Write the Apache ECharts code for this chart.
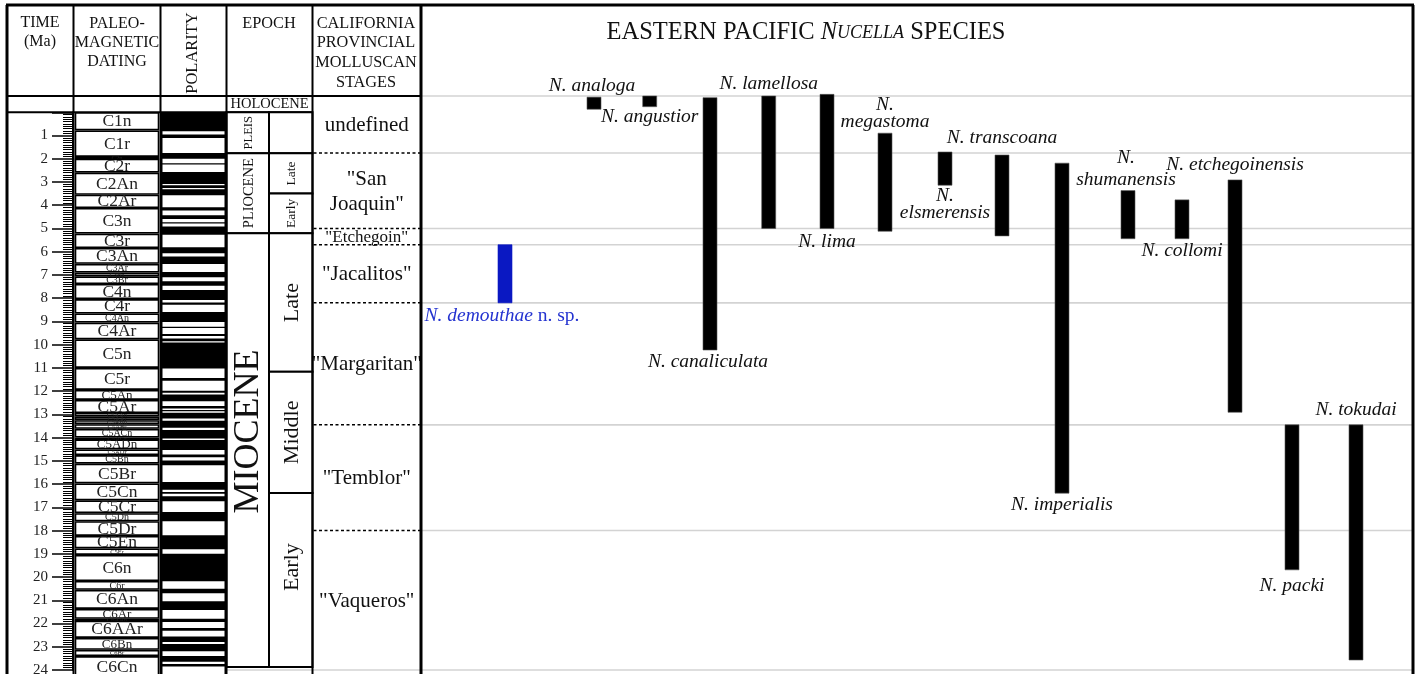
<!DOCTYPE html>
<html><head><meta charset="utf-8">
<script src="https://cdn.jsdelivr.net/npm/echarts@6/dist/echarts.min.js"></script>
<style>html,body{margin:0;padding:0;background:#fff}#c{width:1418px;height:674px}</style>
</head><body><div id="c"></div>
<script>
// ================= DATA (ages in Ma) =================
const TIME_TICK_LABELS = [1,2,3,4,5,6,7,8,9,10,11,12,13,14,15,16,17,18,19,20,21,22,23,24];

const CHRON_NAMES = ['C1n','C1r','C2n','C2r','C2An','C2Ar','C3n','C3r','C3An','C3Ar','C3Bn','C3Br','C4n','C4r','C4An','C4Ar','C5n','C5r','C5An','C5Ar','C5AAn','C5AAr','C5ABn','C5ABr','C5ACn','C5ACr','C5ADn','C5ADr','C5Bn','C5Br','C5Cn','C5Cr','C5Dn','C5Dr','C5En','C5Er','C6n','C6r','C6An','C6Ar','C6AAn','C6AAr','C6Bn','C6Br','C6Cn'];
const CHRON_YOUNG = [0,0.78,1.92,2.0,2.6,3.55,4.12,5.22,5.84,6.52,6.9,7.06,7.39,8.04,8.66,9.05,9.77,11.0,11.95,12.38,12.94,13.1,13.25,13.42,13.62,14.0,14.08,14.51,14.75,15.12,15.97,16.7,17.25,17.6,18.23,18.77,19.05,20.17,20.55,21.37,21.8,21.88,22.62,23.13,23.4];
const CHRON_OLD   = [0.78,1.92,2.0,2.6,3.55,4.12,5.22,5.84,6.52,6.9,7.06,7.39,8.04,8.66,9.05,9.77,11.0,11.95,12.38,12.94,13.1,13.25,13.42,13.62,14.0,14.08,14.51,14.75,15.12,15.97,16.7,17.25,17.6,18.23,18.77,19.05,20.17,20.55,21.37,21.8,21.88,22.62,23.13,23.4,24.3];

const POLARITY_RECORD = [0, 24.3];
const REVERSED_YOUNG = [0.82,1.11,2.0,2.25,3.09,3.26,3.57,4.23,4.59,4.79,5.27,6.07,6.53,7.10,7.47,8.08,8.28,9.02,9.28,9.63,9.85,11.03,11.55,12.07,12.44,12.75,12.87,13.18,13.58,14.04,14.53,14.85,15.19,16.24,16.42,16.74,17.6,18.8,20.18,20.7,21.42,21.93,22.31,22.79,23.19,23.65,23.85];
const REVERSED_OLD   = [0.96,1.75,2.19,2.57,3.14,3.31,4.09,4.43,4.73,4.92,5.81,6.21,6.87,7.27,7.65,8.19,8.59,9.23,9.54,9.74,9.91,11.43,11.98,12.15,12.64,12.81,12.93,13.27,13.67,14.10,14.73,14.99,15.91,16.34,16.52,17.2,18.2,19.0,20.5,21.04,21.79,22.19,22.56,22.88,23.4,23.74,24.3];

const HOLOCENE = ['HOLOCENE', -0.7, 0];
const EPOCH_NAMES = ['PLEIS','PLIOCENE','MIOCENE'];
const EPOCH_YOUNG = [0, 1.76, 5.21];
const EPOCH_OLD   = [1.76, 5.21, 23.87];
const SUBEPOCH_NAMES = ['', 'Late', 'Early', 'Late', 'Middle', 'Early'];
const SUBEPOCH_YOUNG = [0, 1.76, 3.5, 5.21, 11.17, 16.38];
const SUBEPOCH_OLD   = [1.76, 3.5, 5.21, 11.17, 16.38, 23.87];

const STAGE_NAMES = ['undefined', '"San\nJoaquin"', '"Etchegoin"', '"Jacalitos"', '"Margaritan"', '"Temblor"', '"Vaqueros"'];
const STAGE_YOUNG = [-0.7, 1.75, 5.0, 5.7, 8.2, 13.45, 18.0];
const STAGE_OLD   = [1.75, 5.0, 5.7, 8.2, 13.45, 18.0, 24];

const SPECIES = ['N. demouthae','N. analoga','N. angustior','N. canaliculata','N. lamellosa','N. lima','N. megastoma','N. elsmerensis','N. transcoana','N. imperialis','N. shumanensis','N. collomi','N. etchegoinensis','N. packi','N. tokudai'];
const SPECIES_YOUNG = [5.7,-0.65,-0.7,-0.63,-0.7,-0.77,0.9,1.71,1.84,2.19,3.37,3.77,2.91,13.45,13.45];
const SPECIES_OLD   = [8.2,-0.13,-0.24,10.23,5.0,5.0,5.12,3.14,5.32,16.39,5.44,5.44,12.91,19.69,23.57];

// ================= LAYOUT / STYLE =================
const SERIF = '"Liberation Serif","Times New Roman",serif';
const INK = '#111';
const COL = {left:7, time:73.5, paleoL:75.5, paleoR:158.5, pol:160.5, polInL:162.5, polInR:224.5, ep:226.5, epMid:269, st:312.5, sp:421, right:1413};
const SPECIES_X = [505,594,649.7,710,768.7,827,885,945,1002,1062,1128,1182,1235,1292,1356];
const BAR_W = 14;
const LABEL_SIDE = ['bottom','top','bottom','bottom','top','bottom','top','bottom','top','bottom','top','bottom','top','bottom','top'];
const LABEL_DY   = [13,-11,10,12,-12,13,-20,19,-17,12,-22,12,-15,16,-15];
const LABEL_DX   = [-3,-2,0,-2,0,0,0,0,0,0,-2,0,0,0,0];
const LABEL_WRAP = [false,false,false,false,false,false,true,true,false,false,true,false,false,false,false];
const NEW_SPECIES = 0;
const EPOCH_LABEL_SHIFT = [0, 0, -0.8];
const SUBEPOCH_LABEL_SHIFT = [0,0,0,0,0,-0.55];
const SP_FONT = 19.5;

// ================= GRAPHIC (frame + header) =================
const G = [];
function gline(x1,y1,x2,y2,w,c){G.push({type:'line',silent:true,z:30,shape:{x1,y1,x2,y2},style:{stroke:c||'#000',lineWidth:w||2}});}
function gtext(x,y,t,size,lh,extra){G.push(Object.assign({type:'text',silent:true,z:30,x,y,style:{text:t,fill:INK,fontFamily:SERIF,fontSize:size||16,align:'center',verticalAlign:'middle',lineHeight:lh||19}},extra||{}));}
gline(COL.left-1,5,COL.right+1,5,3);
gline(COL.left,5,COL.left,674,3);
gline(COL.right,5,COL.right,674,3);
gline(COL.time,5,COL.time,674,2);
gline(COL.pol,5,COL.pol,674,2);
gline(COL.ep,5,COL.ep,674,2);
gline(COL.st,5,COL.st,674,2);
gline(COL.sp,5,COL.sp,674,3);
gline(COL.left,96,COL.sp,96,2);
gtext(40,32.5,'TIME\n(Ma)',16,18.5);
gtext(117,42.5,'PALEO-\nMAGNETIC\nDATING',16,19);
gtext(193,53,'POLARITY',16.5,19,{rotation:Math.PI/2});
gtext(269,24,'EPOCH',16.3,19);
gtext(366,53,'CALIFORNIA\nPROVINCIAL\nMOLLUSCAN\nSTAGES',16.3,19.6);
G.push({type:'text',silent:true,z:30,x:806,y:33,style:{text:'EASTERN PACIFIC {i|N}{s|UCELLA} SPECIES',fill:INK,fontFamily:SERIF,fontSize:24.5,align:'center',verticalAlign:'middle',
  rich:{i:{fontFamily:SERIF,fontSize:24.5,fontStyle:'italic',fill:INK},s:{fontFamily:SERIF,fontSize:18,fontStyle:'italic',fill:INK}}}});

// ================= SERIES =================
const series = [];

// stage column + grey guide lines in the species panel
series.push({type:'custom',xAxisIndex:0,yAxisIndex:0,clip:false,z:2,silent:true,
  data: STAGE_NAMES.map((n,i)=>[COL.st, STAGE_YOUNG[i], STAGE_OLD[i]]), encode:{x:0,y:[1,2]},
  renderItem(p,api){
    const i=p.dataIndex;
    const y0=api.coord([0,api.value(1)])[1], y1=api.coord([0,api.value(2)])[1];
    const ch=[];
    ch.push({type:'line',shape:{x1:COL.sp+1,y1:y0,x2:COL.right-1,y2:y0},style:{stroke:'#d3d3d3',lineWidth:1.6}});
    if(i===STAGE_NAMES.length-1) ch.push({type:'line',shape:{x1:COL.ep,y1:y1,x2:COL.right-1,y2:y1},style:{stroke:'#d3d3d3',lineWidth:1.6}});
    if(i>0) ch.push({type:'line',shape:{x1:COL.st+1,y1:y0,x2:COL.sp-1,y2:y0},style:{stroke:'#000',lineWidth:1.5,lineDash:[3,2.5]}});
    const fs = (STAGE_OLD[i]-STAGE_YOUNG[i])<1 ? 17 : 21;
    ch.push({type:'text',x:(COL.st+COL.sp)/2,y:(y0+y1)/2+1,style:{text:STAGE_NAMES[i],fill:INK,fontFamily:SERIF,fontSize:fs,align:'center',verticalAlign:'middle',lineHeight:25}});
    return {type:'group',children:ch};
  }});

// holocene row
series.push({type:'custom',xAxisIndex:0,yAxisIndex:0,clip:false,z:3,silent:true,
  data:[[COL.ep,HOLOCENE[1],HOLOCENE[2]]],encode:{x:0,y:[1,2]},
  renderItem(p,api){
    const y0=api.coord([0,api.value(1)])[1], y1=api.coord([0,api.value(2)])[1];
    return {type:'group',children:[
      {type:'line',shape:{x1:COL.left,y1:y1,x2:COL.st,y2:y1},style:{stroke:'#000',lineWidth:2}},
      {type:'text',x:(COL.ep+COL.st)/2,y:(y0+y1)/2+0.5,style:{text:HOLOCENE[0],fill:INK,fontFamily:SERIF,fontSize:14.5,align:'center',verticalAlign:'middle'}}
    ]};
  }});

// epochs
series.push({type:'custom',xAxisIndex:0,yAxisIndex:0,clip:false,z:3,silent:true,
  data:EPOCH_NAMES.map((n,i)=>[COL.ep,EPOCH_YOUNG[i],EPOCH_OLD[i]]),encode:{x:0,y:[1,2]},
  renderItem(p,api){
    const i=p.dataIndex;
    const y0=api.coord([0,api.value(1)])[1], y1=api.coord([0,api.value(2)])[1];
    const yl=api.coord([0,(EPOCH_YOUNG[i]+EPOCH_OLD[i])/2+EPOCH_LABEL_SHIFT[i]])[1];
    const fs=[12.5,14.5,36][i];
    return {type:'group',children:[
      {type:'rect',shape:{x:COL.ep,y:y0,width:COL.epMid-COL.ep,height:y1-y0},style:{fill:'#fff',stroke:'#000',lineWidth:2}},
      {type:'text',x:(COL.ep+COL.epMid)/2+1,y:yl,rotation:Math.PI/2,style:{text:EPOCH_NAMES[i],fill:INK,fontFamily:SERIF,fontSize:fs,align:'center',verticalAlign:'middle'}}
    ]};
  }});
series.push({type:'custom',xAxisIndex:0,yAxisIndex:0,clip:false,z:3,silent:true,
  data:SUBEPOCH_NAMES.map((n,i)=>[COL.epMid,SUBEPOCH_YOUNG[i],SUBEPOCH_OLD[i]]),encode:{x:0,y:[1,2]},
  renderItem(p,api){
    const i=p.dataIndex;
    const y0=api.coord([0,api.value(1)])[1], y1=api.coord([0,api.value(2)])[1];
    const yl=api.coord([0,(SUBEPOCH_YOUNG[i]+SUBEPOCH_OLD[i])/2+SUBEPOCH_LABEL_SHIFT[i]])[1];
    const fs=(SUBEPOCH_OLD[i]-SUBEPOCH_YOUNG[i])<2.5?13.5:22;
    return {type:'group',children:[
      {type:'rect',shape:{x:COL.epMid,y:y0,width:COL.st-COL.epMid,height:y1-y0},style:{fill:'#fff',stroke:'#000',lineWidth:2}},
      {type:'text',x:(COL.epMid+COL.st)/2+1,y:yl,rotation:Math.PI/2,style:{text:SUBEPOCH_NAMES[i],fill:INK,fontFamily:SERIF,fontSize:fs,align:'center',verticalAlign:'middle'}}
    ]};
  }});

// paleomagnetic chrons
series.push({type:'custom',xAxisIndex:0,yAxisIndex:0,clip:false,z:3,silent:true,
  data:CHRON_NAMES.map((n,i)=>[COL.paleoL,CHRON_YOUNG[i],CHRON_OLD[i]]),encode:{x:0,y:[1,2]},
  renderItem(p,api){
    const i=p.dataIndex;
    const y0=api.coord([0,api.value(1)])[1];
    const yEnd=api.coord([0,api.value(2)])[1];
    const y1=Math.min(yEnd,676);
    const h=yEnd-y0;
    const fs = h>=12?17.5:(h>=9.5?13:(h>=7.5?10:6.5));
    return {type:'group',children:[
      {type:'rect',shape:{x:COL.paleoL,y:y0+0.8,width:COL.paleoR-COL.paleoL,height:Math.max(1,y1-y0-1.6)},style:{fill:'#fff',stroke:'#000',lineWidth:1.6}},
      {type:'text',x:(COL.paleoL+COL.paleoR)/2,y:(y0+yEnd)/2+0.5,style:{text:CHRON_NAMES[i],fill:'#222',fontFamily:SERIF,fontSize:fs,align:'center',verticalAlign:'middle'}}
    ]};
  }});

// polarity: normal background + reversed (white) intervals
series.push({type:'custom',xAxisIndex:0,yAxisIndex:0,clip:false,z:3,silent:true,
  data:[[COL.pol,POLARITY_RECORD[0],POLARITY_RECORD[1]]],encode:{x:0,y:[1,2]},
  renderItem(p,api){
    const y0=api.coord([0,api.value(1)])[1], y1=api.coord([0,api.value(2)])[1];
    return {type:'rect',shape:{x:COL.pol,y:y0,width:COL.ep-COL.pol,height:y1-y0},style:{fill:'#000'}};
  }});
series.push({type:'custom',xAxisIndex:0,yAxisIndex:0,clip:false,z:4,silent:true,
  data:REVERSED_YOUNG.map((v,i)=>[COL.polInL,v,REVERSED_OLD[i]]),encode:{x:0,y:[1,2]},
  renderItem(p,api){
    const y0=api.coord([0,api.value(1)])[1], y1=api.coord([0,api.value(2)])[1];
    return {type:'rect',shape:{x:COL.polInL,y:y0,width:COL.polInR-COL.polInL,height:Math.max(1,y1-y0)},style:{fill:'#fff'}};
  }});

// species ranges
series.push({type:'custom',xAxisIndex:0,yAxisIndex:0,clip:false,z:5,silent:true,
  data:SPECIES.map((n,i)=>[SPECIES_X[i],SPECIES_YOUNG[i],SPECIES_OLD[i]]),encode:{x:0,y:[1,2]},
  renderItem(p,api){
    const i=p.dataIndex;
    const a=api.coord([api.value(0),api.value(1)]), b=api.coord([api.value(0),api.value(2)]);
    const isNew = i===NEW_SPECIES;
    const col = isNew?'#0a18c2':'#000';
    const anchor = LABEL_SIDE[i]==='top'?a[1]:b[1];
    let txt = SPECIES[i];
    if(LABEL_WRAP[i]) txt = txt.replace('. ', '.\n');
    const lh = i===10?22:17.5;
    const style = isNew
      ? {text:'{i|'+txt+'}{n| n. sp.}',fill:'#2433d0',fontFamily:SERIF,fontSize:SP_FONT,align:'center',verticalAlign:'middle',
         rich:{i:{fontFamily:SERIF,fontSize:SP_FONT,fontStyle:'italic',fill:'#2433d0'},n:{fontFamily:SERIF,fontSize:SP_FONT,fontStyle:'normal',fill:'#2433d0'}}}
      : {text:txt,fill:INK,fontFamily:SERIF,fontSize:SP_FONT,fontStyle:'italic',align:'center',verticalAlign:'middle',lineHeight:lh};
    return {type:'group',children:[
      {type:'rect',shape:{x:a[0]-BAR_W/2,y:a[1],width:BAR_W,height:b[1]-a[1]},style:{fill:col,stroke:isNew?col:'#555',lineWidth:0.6}},
      {type:'text',x:a[0]+LABEL_DX[i],y:anchor+LABEL_DY[i],style:style}
    ]};
  }});

const option = {
  animation:false,
  backgroundColor:'#fff',
  grid:[
    {left:0,right:0,top:96,bottom:4,containLabel:false,outerBoundsMode:'none'},
    {left:73,width:1,top:112.267,bottom:4,containLabel:false,outerBoundsMode:'none'}
  ],
  xAxis:[
    {type:'value',gridIndex:0,min:0,max:1418,show:false},
    {type:'value',gridIndex:1,min:0,max:1,show:false}
  ],
  yAxis:[
    {type:'value',gridIndex:0,min:-0.7,max:24,inverse:true,show:false,splitLine:{show:false}},
    {type:'value',gridIndex:1,min:0,max:24,interval:1,inverse:true,position:'left',
     axisLine:{show:true,lineStyle:{color:'#000',width:2}},
     axisTick:{show:true,length:21,lineStyle:{color:'#000',width:1.5}},
     minorTick:{show:true,splitNumber:10,length:10,lineStyle:{color:'#000',width:1}},
     splitLine:{show:false},minorSplitLine:{show:false},
     axisLabel:{margin:25,color:'#222',fontFamily:SERIF,fontSize:15,
       formatter:v=>TIME_TICK_LABELS.indexOf(v)>=0?String(v):''}}
  ],
  graphic:G,
  series:series
};
const chart = echarts.init(document.getElementById('c'));
chart.setOption(option);
</script>
</body></html>
